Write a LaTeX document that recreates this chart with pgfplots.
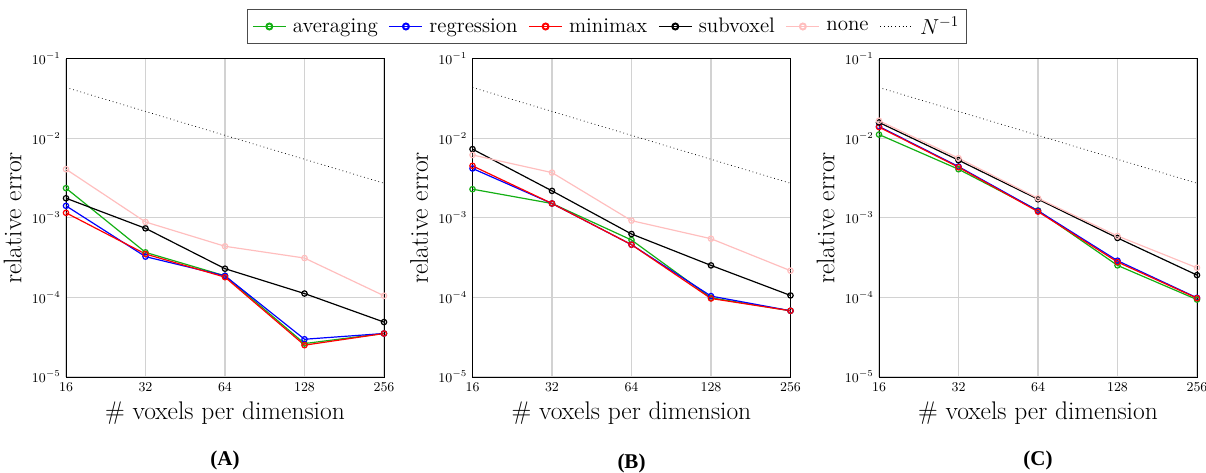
\documentclass[border=0pt]{standalone}
\usepackage{fontspec}
\usepackage{pgfplots}
\usepackage{pgfplotstable}
\pgfplotsset{compat=1.18}
\newfontfamily\capfont{Liberation Serif}

\definecolor{cavg}{RGB}{20,175,20}
\definecolor{creg}{RGB}{0,0,255}
\definecolor{cmm}{RGB}{255,0,0}
\definecolor{csub}{RGB}{0,0,0}
\definecolor{cnone}{RGB}{255,190,190}

% N avg reg mm sub none ref
\pgfplotstableread{
N   avg      reg      mm       sub      none     ref
16  2.37e-3  1.42e-3  1.16e-3  1.77e-3  4.1e-3   0.04375
32  3.69e-4  3.26e-4  3.52e-4  7.4e-4   8.9e-4   0.021875
64  1.87e-4  1.87e-4  1.80e-4  2.3e-4   4.4e-4   0.0109375
128 2.63e-5  2.98e-5  2.51e-5  1.12e-4  3.13e-4  0.00546875
256 3.52e-5  3.52e-5  3.52e-5  4.9e-5   1.05e-4  0.002734375
}\dataA
\pgfplotstableread{
N   avg      reg      mm       sub      none     ref
16  2.30e-3  4.19e-3  4.52e-3  7.34e-3  6.2e-3   0.04375
32  1.52e-3  1.52e-3  1.52e-3  2.19e-3  3.72e-3  0.021875
64  5.28e-4  4.61e-4  4.61e-4  6.28e-4  9.25e-4  0.0109375
128 9.9e-5   1.04e-4  9.7e-5   2.53e-4  5.48e-4  0.00546875
256 6.8e-5   6.8e-5   6.8e-5   1.06e-4  2.17e-4  0.002734375
}\dataB
\pgfplotstableread{
N   avg      reg      mm       sub      none     ref
16  1.12e-2  1.416e-2 1.39e-2  1.59e-2  1.67e-2  0.04375
32  4.1e-3   4.43e-3  4.35e-3  5.33e-3  5.65e-3  0.021875
64  1.24e-3  1.23e-3  1.20e-3  1.72e-3  1.77e-3  0.0109375
128 2.53e-4  2.9e-4   2.79e-4  5.6e-4   5.93e-4  0.00546875
256 9.4e-5   9.9e-5   9.8e-5   1.91e-4  2.36e-4  0.002734375
}\dataC

\tikzset{pl/.style={line width=0.8pt, mark=o, mark size=1.8pt, mark options={solid}}}

\newcommand{\drawseries}[1]{%
  \addplot[cavg, pl] table[x=N, y=avg] {#1};
  \addplot[creg, pl] table[x=N, y=reg] {#1};
  \addplot[cmm, pl] table[x=N, y=mm] {#1};
  \addplot[csub, pl] table[x=N, y=sub] {#1};
  \addplot[cnone, pl] table[x=N, y=none] {#1};
  \addplot[black, dotted, line width=0.5pt] table[x=N, y=ref] {#1};
}

\begin{document}
\begin{tikzpicture}
\begin{loglogaxis}[name=A, at={(0,0)}, anchor=south west,
    scale only axis, width=212pt, height=212pt,
    log basis x=2,
    xmin=16, xmax=256, ymin=1e-5, ymax=1e-1,
    xtick={16,32,64,128,256}, xticklabels={16,32,64,128,256},
    ytick={1e-5,1e-4,1e-3,1e-2,1e-1},
    yminorticks=false, xminorticks=false,
    major tick length=0pt,
    grid=major, major grid style={gray!35, line width=0.7pt},
    axis line style={line width=0.6pt},
    tick label style={font=\fontsize{9}{10}\selectfont},
    label style={font=\fontsize{17}{20}\selectfont},
    xlabel={\# voxels per dimension}, ylabel={relative error}]
\drawseries{\dataA}
\end{loglogaxis}
\begin{loglogaxis}[name=B, at={(271pt,0)}, anchor=south west,
    scale only axis, width=212pt, height=212pt,
    log basis x=2,
    xmin=16, xmax=256, ymin=1e-5, ymax=1e-1,
    xtick={16,32,64,128,256}, xticklabels={16,32,64,128,256},
    ytick={1e-5,1e-4,1e-3,1e-2,1e-1},
    yminorticks=false, xminorticks=false,
    major tick length=0pt,
    grid=major, major grid style={gray!35, line width=0.7pt},
    axis line style={line width=0.6pt},
    tick label style={font=\fontsize{9}{10}\selectfont},
    label style={font=\fontsize{17}{20}\selectfont},
    xlabel={\# voxels per dimension}, ylabel={relative error},
    legend columns=6,
    legend style={at={(0.423,1.102)}, anchor=center, draw=black!70, line width=0.6pt,
      font=\fontsize{14}{17}\selectfont, inner sep=3pt,
      /tikz/every odd column/.append style={column sep=2pt},
      /tikz/every even column/.append style={column sep=5pt}},
    legend image code/.code={%
      \draw[#1, line width=1.3pt, mark size=2pt, mark repeat=2, mark phase=2]
        plot coordinates {(0pt,0pt) (11pt,0pt) (22pt,0pt)};},
    ]
\drawseries{\dataB}
\legend{averaging, regression, minimax, subvoxel, none, $N^{-1}$}
\end{loglogaxis}
\begin{loglogaxis}[name=C, at={(542pt,0)}, anchor=south west,
    scale only axis, width=212pt, height=212pt,
    log basis x=2,
    xmin=16, xmax=256, ymin=1e-5, ymax=1e-1,
    xtick={16,32,64,128,256}, xticklabels={16,32,64,128,256},
    ytick={1e-5,1e-4,1e-3,1e-2,1e-1},
    yminorticks=false, xminorticks=false,
    major tick length=0pt,
    grid=major, major grid style={gray!35, line width=0.7pt},
    axis line style={line width=0.6pt},
    tick label style={font=\fontsize{9}{10}\selectfont},
    label style={font=\fontsize{17}{20}\selectfont},
    xlabel={\# voxels per dimension}, ylabel={relative error}]
\drawseries{\dataC}
\end{loglogaxis}
\node[font=\capfont\bfseries\fontsize{14}{17}\selectfont] at ([yshift=-56pt]A.south) {(A)};
\node[font=\capfont\bfseries\fontsize{14}{17}\selectfont] at ([yshift=-58pt]B.south) {(B)};
\node[font=\capfont\bfseries\fontsize{14}{17}\selectfont] at ([yshift=-56pt]C.south) {(C)};
\pgfresetboundingbox
\path (-44pt,-64pt) rectangle (760pt,251.3pt);
\end{tikzpicture}
\end{document}
